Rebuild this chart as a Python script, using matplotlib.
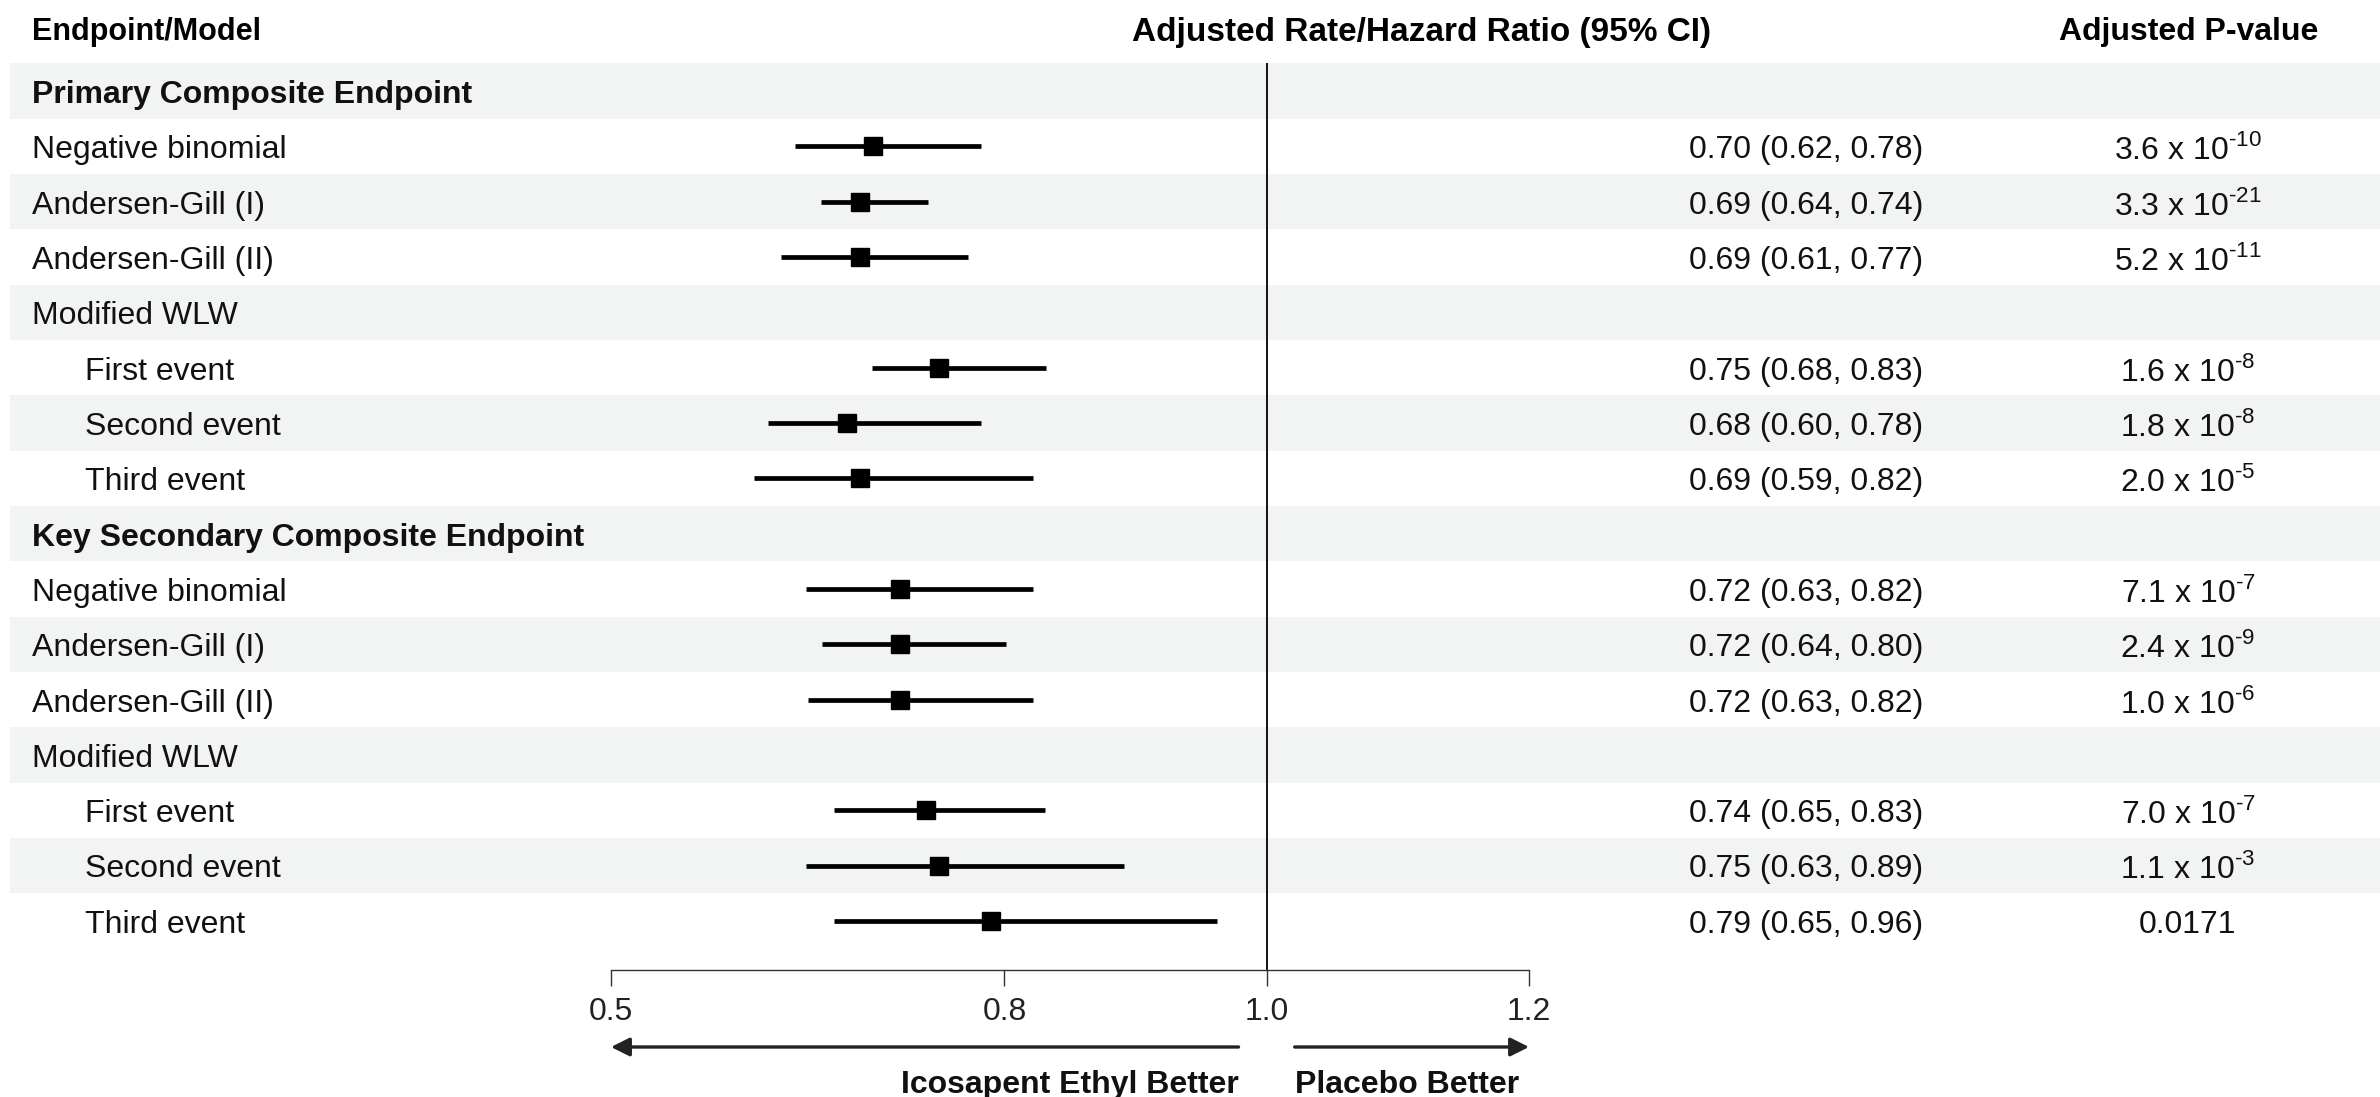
import numpy as np
import matplotlib
matplotlib.use("Agg")
import matplotlib.pyplot as plt
import matplotlib.transforms as mtransforms

plt.rcParams['font.family'] = ['Liberation Sans', 'DejaVu Sans']
plt.rcParams['mathtext.fontset'] = 'custom'
plt.rcParams['mathtext.rm'] = 'Liberation Sans'

# ---- data ----
row_labels = ["Primary Composite Endpoint", "Negative binomial", "Andersen-Gill (I)",
              "Andersen-Gill (II)", "Modified WLW", "First event", "Second event",
              "Third event", "Key Secondary Composite Endpoint", "Negative binomial",
              "Andersen-Gill (I)", "Andersen-Gill (II)", "Modified WLW", "First event",
              "Second event", "Third event"]
bold_rows = [0, 8]
indent_rows = [5, 6, 7, 13, 14, 15]

nan = np.nan
estimate = [nan, 0.70, 0.69, 0.69, nan, 0.75, 0.68, 0.69,
            nan, 0.72, 0.72, 0.72, nan, 0.74, 0.75, 0.79]
ci_low = [nan, 0.640, 0.660, 0.630, nan, 0.699, 0.620, 0.609,
          nan, 0.649, 0.661, 0.650, nan, 0.670, 0.649, 0.670]
ci_high = [nan, 0.782, 0.742, 0.772, nan, 0.832, 0.782, 0.822,
           nan, 0.822, 0.801, 0.822, nan, 0.831, 0.891, 0.962]

ci_text = ["", "0.70 (0.62, 0.78)", "0.69 (0.64, 0.74)", "0.69 (0.61, 0.77)", "",
           "0.75 (0.68, 0.83)", "0.68 (0.60, 0.78)", "0.69 (0.59, 0.82)", "",
           "0.72 (0.63, 0.82)", "0.72 (0.64, 0.80)", "0.72 (0.63, 0.82)", "",
           "0.74 (0.65, 0.83)", "0.75 (0.63, 0.89)", "0.79 (0.65, 0.96)"]
# mantissa, exponent (None = plain text)
p_mant = ["", "3.6", "3.3", "5.2", "", "1.6", "1.8", "2.0", "",
          "7.1", "2.4", "1.0", "", "7.0", "1.1", "0.0171"]
p_exp = [None, "-10", "-21", "-11", None, "-8", "-8", "-5", None,
         "-7", "-9", "-6", None, "-7", "-3", None]

xticks = [0.5, 0.8, 1.0, 1.2]
xtick_labels = ["0.5", "0.8", "1.0", "1.2"]

# ---- layout (pixels of a 2380x1097 canvas) ----
W, H = 2380, 1097
fs = 23
band_color = '#f2f4f3'
row_h = 55.33
row0_y = 91
top_px = row0_y - row_h / 2
axis_px = 970
y_bottom = (axis_px - row0_y) / row_h
bottom = 1 - axis_px / H
height = (axis_px - top_px) / H
txt_dy = 0.07  # text sits a touch lower than the row centre

fig = plt.figure(figsize=(W / 100, H / 100), dpi=100)

# background / table axes (x in pixels)
bg = fig.add_axes([0, bottom, 1, height])
bg.set_xlim(0, W)
bg.set_ylim(y_bottom, -0.5)
bg.axis('off')


def p_label(mant, exp):
    if exp is None:
        return mant
    exp = exp.replace("-", "\u2010")
    return mant + " x 10$^{\\mathregular{" + exp + "}}$"


n = len(row_labels)
for i in range(n):
    if i % 2 == 0:
        bg.axhspan(i - 0.5, i + 0.5, xmin=10 / W, xmax=1, color=band_color, lw=0, zorder=0)
    x = 85 if i in indent_rows else 32
    bg.text(x, i + txt_dy, row_labels[i], fontsize=fs, va='center', ha='left',
            fontweight='bold' if i in bold_rows else 'normal', color='#111111')
    if ci_text[i]:
        bg.text(1806, i + txt_dy, ci_text[i], fontsize=fs, va='center', ha='center',
                color='#111111')
    if p_mant[i]:
        bg.text(2188, i + txt_dy, p_label(p_mant[i], p_exp[i]), fontsize=fs, va='center',
                ha='center', color='#111111')

head_y = (32 - row0_y) / row_h
bg.text(32, head_y, "Endpoint/Model", fontsize=22, fontweight='bold', va='center', ha='left')
bg.text(1421, head_y, "Adjusted Rate/Hazard Ratio (95% CI)", fontsize=24, fontweight='bold',
        va='center', ha='center')
bg.text(2189, head_y, "Adjusted P-value", fontsize=fs, fontweight='bold', va='center', ha='center')

# forest axes
x0, x1 = 611, 1529
ax = fig.add_axes([x0 / W, bottom, (x1 - x0) / W, height])
ax.patch.set_alpha(0)
ax.set_xlim(0.5, 1.2)
ax.set_ylim(y_bottom, -0.5)
rows = np.arange(n)
ax.hlines(rows, ci_low, ci_high, color='black', lw=3.4, zorder=3)
ax.plot(estimate, rows, 's', color='black', markersize=13.5, zorder=4)
ax.axvline(1.0, color='black', lw=1.3, zorder=2)

for s in ['top', 'right', 'left']:
    ax.spines[s].set_visible(False)
ax.spines['bottom'].set_color('#333333')
ax.spines['bottom'].set_linewidth(1.0)
ax.set_yticks([])
ax.set_xticks(xticks)
ax.set_xticklabels(xtick_labels)
ax.tick_params(axis='x', direction='out', length=11.5, width=1.0, color='#333333',
               labelsize=fs, labelcolor='#222222', pad=8)

trans = mtransforms.blended_transform_factory(ax.transData, ax.transAxes)
arrow_y = -(1047 - axis_px) / (axis_px - top_px)
text_y = -(1085 - axis_px) / (axis_px - top_px)
ax.annotate("", xy=(0.5, arrow_y), xytext=(0.9785, arrow_y), xycoords=trans, textcoords=trans,
            arrowprops=dict(arrowstyle='-|>', lw=2.4, color='#222222', mutation_scale=28,
                            shrinkA=0, shrinkB=0), annotation_clip=False)
ax.annotate("", xy=(1.2, arrow_y), xytext=(1.0213, arrow_y), xycoords=trans, textcoords=trans,
            arrowprops=dict(arrowstyle='-|>', lw=2.4, color='#222222', mutation_scale=28,
                            shrinkA=0, shrinkB=0), annotation_clip=False)
ax.text(0.9785, text_y, "Icosapent Ethyl Better", transform=trans, fontsize=fs,
        fontweight='bold', ha='right', va='center', color='#111111')
ax.text(1.0213, text_y, "Placebo Better", transform=trans, fontsize=fs,
        fontweight='bold', ha='left', va='center', color='#111111')

plt.savefig('out.png', dpi=100)
